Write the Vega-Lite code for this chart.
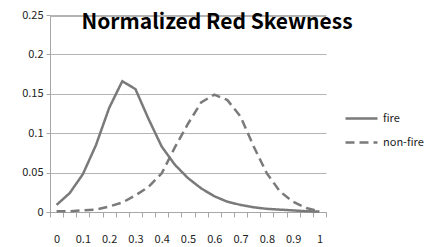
{
  "$schema": "https://vega.github.io/schema/vega-lite/v6.json",
  "autosize": "none",
  "width": 276,
  "height": 197,
  "padding": {"left": 50, "top": 15, "right": 101, "bottom": 35},
  "background": "white",
  "title": {
    "text": "Normalized Red Skewness",
    "font": "Noto Sans CJK KR",
    "fontSize": 21,
    "fontWeight": "bold",
    "color": "#000000",
    "anchor": "middle",
    "frame": "group",
    "dx": 29,
    "dy": 20,
    "offset": -21,
    "baseline": "alphabetic"
  },
  "config": {
    "view": {"stroke": null},
    "axis": {"labelFont": "Noto Sans CJK KR", "labelFontSize": 11, "labelColor": "#222222", "labelOverlap": false, "labelBound": false},
    "legend": {"labelFont": "Noto Sans CJK KR", "labelFontSize": 11, "labelColor": "#222222"}
  },
  "data": {
    "values": [
      {"x": 0, "series": "fire", "v": 0.009},
      {"x": 0.05, "series": "fire", "v": 0.024},
      {"x": 0.1, "series": "fire", "v": 0.048},
      {"x": 0.15, "series": "fire", "v": 0.085},
      {"x": 0.2, "series": "fire", "v": 0.132},
      {"x": 0.25, "series": "fire", "v": 0.166},
      {"x": 0.3, "series": "fire", "v": 0.156},
      {"x": 0.35, "series": "fire", "v": 0.118},
      {"x": 0.4, "series": "fire", "v": 0.083},
      {"x": 0.45, "series": "fire", "v": 0.06},
      {"x": 0.5, "series": "fire", "v": 0.043},
      {"x": 0.55, "series": "fire", "v": 0.03},
      {"x": 0.6, "series": "fire", "v": 0.02},
      {"x": 0.65, "series": "fire", "v": 0.013},
      {"x": 0.7, "series": "fire", "v": 0.009},
      {"x": 0.75, "series": "fire", "v": 0.006},
      {"x": 0.8, "series": "fire", "v": 0.004},
      {"x": 0.85, "series": "fire", "v": 0.003},
      {"x": 0.9, "series": "fire", "v": 0.002},
      {"x": 0.95, "series": "fire", "v": 0.001},
      {"x": 1, "series": "fire", "v": 0.0005},
      {"x": 0, "series": "non-fire", "v": 0.001},
      {"x": 0.05, "series": "non-fire", "v": 0.001},
      {"x": 0.1, "series": "non-fire", "v": 0.002},
      {"x": 0.15, "series": "non-fire", "v": 0.003},
      {"x": 0.2, "series": "non-fire", "v": 0.007},
      {"x": 0.25, "series": "non-fire", "v": 0.012},
      {"x": 0.3, "series": "non-fire", "v": 0.021},
      {"x": 0.35, "series": "non-fire", "v": 0.032},
      {"x": 0.4, "series": "non-fire", "v": 0.049},
      {"x": 0.45, "series": "non-fire", "v": 0.082},
      {"x": 0.5, "series": "non-fire", "v": 0.112},
      {"x": 0.55, "series": "non-fire", "v": 0.139},
      {"x": 0.6, "series": "non-fire", "v": 0.149},
      {"x": 0.65, "series": "non-fire", "v": 0.142},
      {"x": 0.7, "series": "non-fire", "v": 0.121},
      {"x": 0.75, "series": "non-fire", "v": 0.083},
      {"x": 0.8, "series": "non-fire", "v": 0.049},
      {"x": 0.85, "series": "non-fire", "v": 0.026},
      {"x": 0.9, "series": "non-fire", "v": 0.013},
      {"x": 0.95, "series": "non-fire", "v": 0.005},
      {"x": 1, "series": "non-fire", "v": 0.001}
    ]
  },
  "encoding": {
    "y": {
      "field": "v", "type": "quantitative",
      "scale": {"domain": [0, 0.25], "nice": false},
      "axis": {
        "title": null,
        "values": [0, 0.05, 0.1, 0.15, 0.2, 0.25],
        "format": ".2~f",
        "gridColor": "#b4b4b4",
        "gridOpacity": 1,
        "domainColor": "#a6a6a6",
        "tickColor": "#a6a6a6", "tickSize": 4,
        "labelPadding": 3
      }
    }
  },
  "layer": [
    {
      "mark": {"type": "rule", "color": "#b4b4b4", "strokeWidth": 1.3},
      "encoding": {
        "y": {"datum": 0.249, "type": "quantitative"}
      }
    },
    {
      "mark": {"type": "line", "strokeWidth": 2.5, "color": "#7a7a7a"},
      "encoding": {
        "x": {
          "field": "x", "type": "quantitative",
          "scale": {"domain": [-0.025, 1.025], "nice": false, "zero": false},
          "axis": {
            "orient": "bottom",
            "title": null,
            "values": [-0.025, 0.025, 0.075, 0.125, 0.175, 0.225, 0.275, 0.325, 0.375, 0.425, 0.475, 0.525, 0.575, 0.625, 0.675, 0.725, 0.775, 0.825, 0.875, 0.925, 0.975, 1.025],
            "labels": false, "grid": false,
            "tickColor": "#a6a6a6", "tickSize": 5, "domainColor": "#a6a6a6"
          }
        },
        "strokeDash": {
          "field": "series", "type": "nominal",
          "scale": {"domain": ["fire", "non-fire"], "range": [[1, 0], [9, 5]]},
          "legend": {
            "title": null,
            "orient": "none",
            "legendX": 294,
            "legendY": 86,
            "symbolType": "stroke",
            "symbolSize": 1024,
            "symbolStrokeWidth": 2.5,
            "symbolStrokeColor": "#7a7a7a",
            "rowPadding": 1,
            "labelOffset": 4
          }
        }
      }
    },
    {
      "mark": {"type": "line", "strokeWidth": 0, "opacity": 0},
      "encoding": {
        "x": {
          "field": "x", "type": "quantitative",
          "axis": {
            "orient": "bottom",
            "title": null,
            "values": [0, 0.1, 0.2, 0.3, 0.4, 0.5, 0.6, 0.7, 0.8, 0.9, 1],
            "format": ".1~f",
            "ticks": false, "domain": false, "grid": false,
            "labelPadding": 21
          }
        }
      }
    }
  ],
  "resolve": {"axis": {"x": "independent"}}
}
